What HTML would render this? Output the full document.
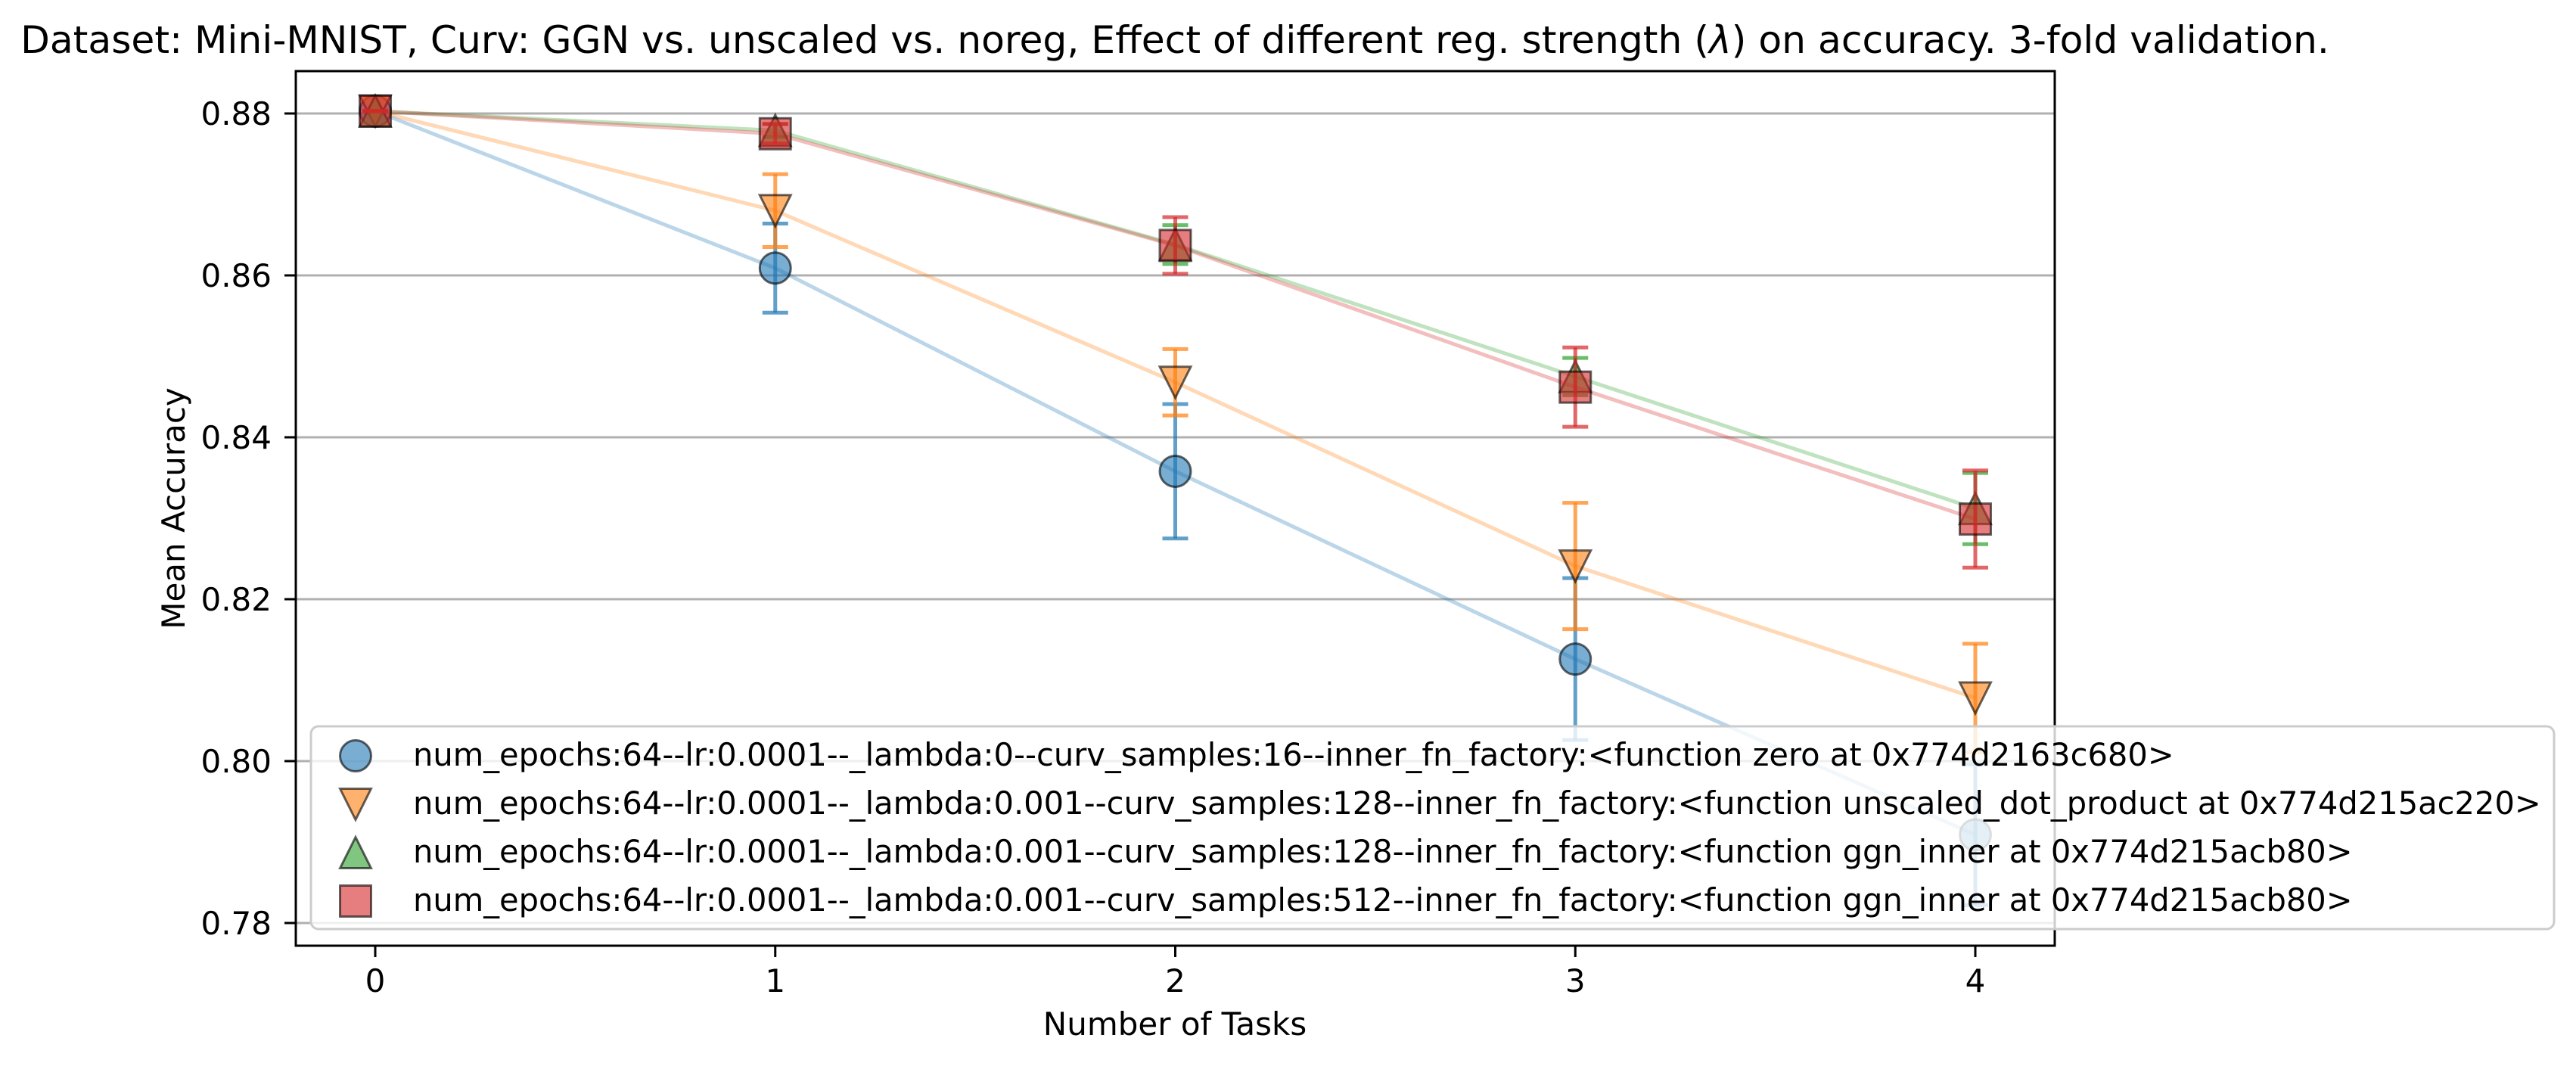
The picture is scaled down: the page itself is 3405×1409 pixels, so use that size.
<!DOCTYPE html>
<html><head><meta charset="utf-8">
<style>
html,body{margin:0;padding:0;background:#fff;}
svg{display:block;font-family:"DejaVu Sans","Liberation Sans",sans-serif;}
</style></head>
<body>
<svg id="chart" width="3405" height="1409" viewBox="0 0 3405 1409" xmlns="http://www.w3.org/2000/svg">
<rect x="0" y="0" width="3405" height="1409" fill="#fff"/>
<text x="1553" y="70" font-size="50.3" text-anchor="middle" fill="#000">Dataset: Mini-MNIST, Curv: GGN vs. unscaled vs. noreg, Effect of different reg. strength (<tspan font-style="italic">λ</tspan>) on accuracy. 3-fold validation.</text>
<g id="grid"></g>
<g id="series"></g>
<g id="axes"></g>
<g id="legend"></g>
<text x="1553" y="1368" font-size="42" text-anchor="middle">Number of Tasks</text>
<text x="0" y="0" font-size="42" text-anchor="middle" transform="translate(244,672) rotate(-90)">Mean Accuracy</text>
</svg>
<script>
const tasks = [0, 1, 2, 3, 4];
const blueVals = [0.8803, 0.8609, 0.8358, 0.8126, 0.7909];
const blueErr = [0, 0.0055, 0.0083, 0.0100, 0.0087];
const orangeVals = [0.8803, 0.8680, 0.8468, 0.8241, 0.8078];
const orangeErr = [0, 0.0045, 0.0041, 0.0078, 0.0067];
const greenVals = [0.8803, 0.8779, 0.8638, 0.8475, 0.8312];
const greenErr = [0, 0.0008, 0.0024, 0.0023, 0.0044];
const redVals = [0.8803, 0.8775, 0.8637, 0.8462, 0.8299];
const redErr = [0, 0.0012, 0.0035, 0.0049, 0.0060];
const yTicks = [0.78, 0.80, 0.82, 0.84, 0.86, 0.88];
const yTickLabels = ["0.78", "0.80", "0.82", "0.84", "0.86", "0.88"];
const xTickLabels = ["0", "1", "2", "3", "4"];
const legendLabels = [
 "num_epochs:64--lr:0.0001--_lambda:0--curv_samples:16--inner_fn_factory:<function zero at 0x774d2163c680>",
 "num_epochs:64--lr:0.0001--_lambda:0.001--curv_samples:128--inner_fn_factory:<function unscaled_dot_product at 0x774d215ac220>",
 "num_epochs:64--lr:0.0001--_lambda:0.001--curv_samples:128--inner_fn_factory:<function ggn_inner at 0x774d215acb80>",
 "num_epochs:64--lr:0.0001--_lambda:0.001--curv_samples:512--inner_fn_factory:<function ggn_inner at 0x774d215acb80>"
];

const NS = "http://www.w3.org/2000/svg";
const L = 391, R = 2716, T = 94, B = 1250;
function xs(v){ return 496 + v * 528.75; }
function ys(v){ return 1006 - (v - 0.80) / 0.02 * 214; }
function mk(tag, attrs, parent){
  const e = document.createElementNS(NS, tag);
  for (const k in attrs) e.setAttribute(k, attrs[k]);
  parent.appendChild(e);
  return e;
}
const grid = document.getElementById('grid');
const axes = document.getElementById('axes');
const seriesG = document.getElementById('series');
const legendG = document.getElementById('legend');

yTicks.forEach((t, i) => {
  const y = ys(t);
  const gl = mk('line', {x1:L, x2:R, y1:y, y2:y, stroke:'#b0b0b0', 'stroke-width':3}, grid);
  
  
  const tk = mk('line', {x1:L-15, x2:L, y1:y, y2:y, stroke:'#000', 'stroke-width':3}, axes);
  
  
  const tx = mk('text', {x:359, y:y+15, 'font-size':42, 'text-anchor':'end'}, axes);
  tx.textContent = yTickLabels[i];
  
  
});
tasks.forEach((t, i) => {
  const x = xs(t);
  const tk = mk('line', {x1:x, x2:x, y1:B, y2:B+15, stroke:'#000', 'stroke-width':3}, axes);
  
  
  const tx = mk('text', {x:x, y:1311, 'font-size':42, 'text-anchor':'middle'}, axes);
  tx.textContent = xTickLabels[i];
  
  
});
const frame = mk('rect', {x:L, y:T, width:R-L, height:B-T, fill:'none', stroke:'#000', 'stroke-width':3}, axes);



function marker(parent, shape, cx, cy, color){
  const s = 41, h = s/2;
  let e;
  const st = {fill:color, 'fill-opacity':0.6, stroke:'#000', 'stroke-opacity':0.6, 'stroke-width':3, 'stroke-linejoin':'miter'};
  if (shape === 'o') e = mk('circle', Object.assign({cx:cx, cy:cy, r:h}, st), parent);
  else if (shape === 'v') e = mk('polygon', Object.assign({points:`${cx-h},${cy-h} ${cx+h},${cy-h} ${cx},${cy+h}`}, st), parent);
  else if (shape === '^') e = mk('polygon', Object.assign({points:`${cx-h},${cy+h} ${cx+h},${cy+h} ${cx},${cy-h}`}, st), parent);
  else e = mk('rect', Object.assign({x:cx-h, y:cy-h, width:s, height:s}, st), parent);
  return e;
}
const series = [
  {name:'noreg', vals:blueVals, err:blueErr, color:'#1f77b4', shape:'o'},
  {name:'unscaled', vals:orangeVals, err:orangeErr, color:'#ff7f0e', shape:'v'},
  {name:'ggn-128', vals:greenVals, err:greenErr, color:'#2ca02c', shape:'^'},
  {name:'ggn-512', vals:redVals, err:redErr, color:'#d62728', shape:'s'}
];
series.forEach(s => {
  const g = mk('g', {}, seriesG);
  
  
  const pts = tasks.map((t, i) => xs(t) + ',' + ys(s.vals[i])).join(' ');
  const ln = mk('polyline', {points:pts, fill:'none', stroke:s.color, 'stroke-opacity':0.3, 'stroke-width':5}, g);
  
  
  tasks.forEach((t, i) => {
    const x = xs(t), y1 = ys(s.vals[i] + s.err[i]), y2 = ys(s.vals[i] - s.err[i]);
    const eg = mk('g', {stroke:s.color, 'stroke-opacity':0.7, 'stroke-width':5}, g);
    
    
    mk('line', {x1:x, x2:x, y1:y1, y2:y2}, eg);
    mk('line', {x1:x-17, x2:x+17, y1:y1, y2:y1}, eg);
    mk('line', {x1:x-17, x2:x+17, y1:y2, y2:y2}, eg);
  });
  tasks.forEach((t, i) => {
    const m = marker(g, s.shape, xs(t), ys(s.vals[i]), s.color);
    
    
  });
});
const lbox = mk('rect', {x:411, y:960, width:2965, height:268, rx:10, fill:'#fff', 'fill-opacity':0.8, stroke:'#cccccc', 'stroke-width':3}, legendG);


const rowY = [999, 1063, 1127, 1191];
series.forEach((s, i) => {
  const g = mk('g', {}, legendG);
  
  
  marker(g, s.shape, 470, rowY[i], s.color);
  const tx = mk('text', {x:546, y:rowY[i]+13, 'font-size':41.6}, g);
  tx.textContent = legendLabels[i];
});
</script>
</body></html>
